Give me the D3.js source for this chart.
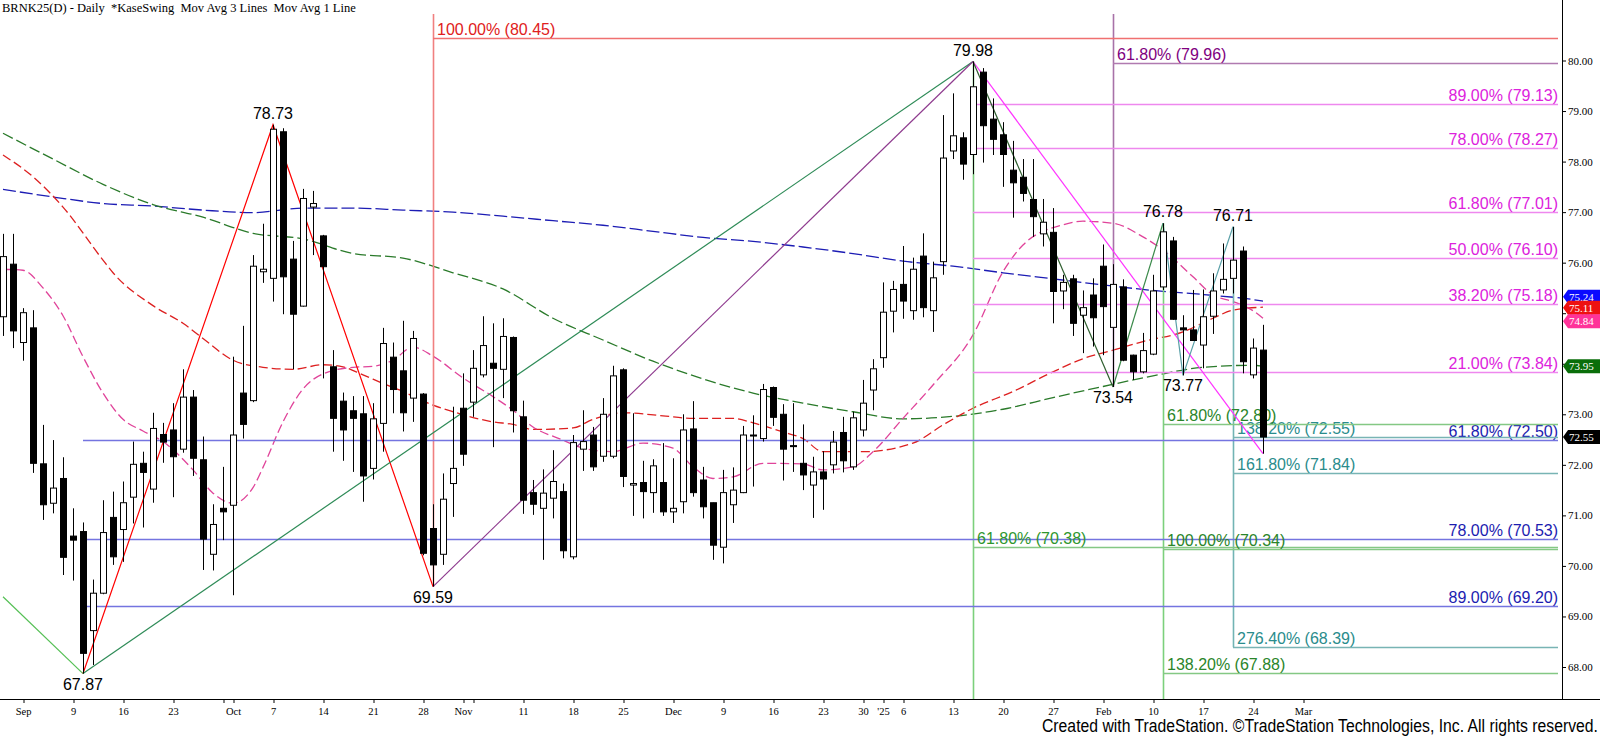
<!DOCTYPE html>
<html lang="en">
<head>
<meta charset="UTF-8">
<script src="https://d3js.org/d3.v7.min.js"></script>
<title>BRNK25(D) - Daily</title>
<style>
  body { margin: 0; background: #fff; }
  svg { display: block; }
  .axis text { font-family: "Liberation Serif", "Times New Roman", serif; fill: #000; }
  .lbl { font-family: "Liberation Sans", Arial, sans-serif; font-size: 16px; }
</style>
</head>
<body>
<svg id="chart" width="1600" height="739"></svg>
<script>
// ---- data ----
// trading calendar (ICE Brent, weekdays without Christmas / New Year)
const firstDay = "2024-08-29";
const lastDay = "2025-04-15";
const holidays = ["2024-12-25", "2025-01-01"];

// daily candles Aug 29 2024 .. Feb 25 2025
const open = [74.93,75.97,74.42,74.71,72.02,71.24,71.73,70.59,70.68,68.72,69.46,70.96,70.72,71.36,72.03,71.52,72.60,72.69,72.31,73.34,
  72.10,70.23,71.14,71.20,73.42,73.27,75.82,75.69,78.59,76.07,75.14,77.10,76.53,73.94,73.26,73.07,73.01,71.93,72.82,74.13,
  73.86,73.32,73.40,70.74,70.23,71.63,73.12,73.24,73.78,74.01,73.89,74.52,72.95,71.45,71.14,71.34,71.47,70.18,72.31,72.59,
  72.17,72.17,73.88,71.60,71.65,71.45,71.65,71.07,71.27,72.71,71.70,71.25,70.37,71.21,71.45,72.59,72.52,73.53,73.00,72.38,
  72.03,71.60,71.86,72.00,72.64,71.96,72.69,73.48,74.12,75.04,75.57,75.05,76.13,75.05,76.02,78.21,78.47,78.14,79.77,78.84,
  78.53,77.83,77.69,77.25,76.57,76.60,75.44,75.68,74.96,75.36,75.93,74.72,75.52,74.17,73.84,74.19,75.52,76.43,74.71,74.67,
  74.37,74.94,75.46,75.69,76.23,73.78,74.27];
const high = [76.57,76.57,75.10,75.06,72.79,72.49,72.15,71.14,70.86,69.73,71.30,71.47,71.67,72.46,72.26,73.03,72.83,73.22,73.89,73.48,
  72.56,71.22,71.96,74.14,74.75,76.15,76.77,78.73,78.66,76.43,77.46,77.42,76.55,74.27,73.43,73.36,73.36,73.22,74.71,74.42,
  74.85,74.65,73.42,71.22,71.83,73.15,73.81,74.27,74.94,74.80,74.90,74.54,73.27,71.70,71.91,72.29,71.63,72.59,73.08,72.75,
  73.32,73.96,73.91,73.02,72.08,72.11,72.43,72.13,73.00,73.26,71.96,71.25,71.90,71.95,72.77,72.98,73.60,73.55,73.20,73.22,
  72.80,72.16,72.27,72.67,72.95,73.05,73.68,74.09,75.61,75.64,76.33,76.10,76.58,76.02,78.92,79.35,78.58,79.98,79.85,79.25,
  78.78,78.41,78.05,78.05,77.26,77.08,75.76,75.76,75.45,75.69,76.36,75.97,75.67,74.18,74.61,75.76,76.78,76.51,74.96,75.46,
  75.47,75.79,76.38,76.71,76.32,74.50,74.77];
const low = [74.55,74.31,74.06,71.84,70.91,71.04,69.82,69.71,67.87,68.04,69.44,70.02,70.08,70.84,70.76,71.25,72.04,71.36,72.24,71.78,
  69.92,69.91,70.51,69.42,72.52,73.24,75.60,75.23,74.98,73.89,75.13,76.15,73.71,72.26,72.08,71.86,71.27,71.71,72.26,73.02,
  72.66,72.85,70.21,69.59,70.02,70.97,71.98,72.95,73.73,72.35,73.32,72.64,71.03,71.01,70.12,70.94,70.15,70.13,71.88,71.88,
  72.06,72.13,71.56,70.99,70.94,71.05,70.99,70.85,71.04,71.37,70.94,70.12,70.05,70.85,71.44,71.57,72.46,72.77,71.69,71.86,
  71.50,70.95,71.11,71.83,71.85,71.90,72.56,73.08,73.92,74.62,74.89,74.87,74.92,74.63,75.76,78.05,77.64,77.75,77.98,78.13,
  77.50,76.89,77.21,76.51,76.32,74.80,75.08,74.55,74.21,74.34,74.17,73.54,74.05,73.68,73.81,74.17,75.46,74.87,73.77,74.45,
  73.91,74.59,75.39,75.39,73.81,73.71,72.22];
const close = [76.12,74.65,75.01,72.03,71.21,71.54,70.17,70.51,68.27,69.46,70.66,70.18,71.25,72.01,71.85,72.72,72.45,72.16,73.34,72.13,
  70.53,70.82,71.07,72.59,72.80,75.93,75.87,78.64,75.72,74.98,77.27,77.17,75.92,72.92,72.69,72.92,71.78,72.91,74.40,73.49,
  73.03,74.50,70.25,70.02,71.32,71.93,72.21,73.91,74.36,73.91,74.54,73.07,71.30,71.22,71.44,71.67,70.30,72.44,72.46,71.96,
  73.00,73.76,71.77,71.63,71.47,71.98,71.07,71.14,72.69,71.45,71.17,70.41,71.45,71.50,72.59,72.57,73.49,72.94,72.31,72.37,
  71.80,71.86,71.72,72.45,72.08,72.93,73.22,73.90,75.02,75.47,75.24,75.87,75.11,75.70,78.07,78.51,77.95,79.48,78.71,78.44,
  78.14,77.58,77.37,76.91,76.80,75.43,75.61,74.80,75.11,74.91,75.13,75.57,74.07,73.84,74.26,75.44,76.61,74.88,74.67,74.46,
  74.93,75.44,75.67,76.05,74.04,74.31,72.55];

// moving averages, sampled at trading-day numbers (0 = Aug 29)
const maGridIdx = [0,5,10,15,20,25,30,35,40,45,50,55,60,65,70,75,80,85,90,95,100,105,110,115,120,125,126];
const maBlue  = [77.45,77.30,77.17,77.12,77.04,76.99,77.08,77.08,77.04,77.00,76.92,76.83,76.74,76.62,76.50,76.42,76.31,76.18,76.03,75.93,75.80,75.68,75.56,75.45,75.37,75.27,75.24];
const maGreen = [78.56,78.05,77.55,77.15,76.90,76.58,76.47,76.18,76.09,75.80,75.48,74.90,74.47,74.05,73.70,73.42,73.22,73.05,72.91,72.96,73.10,73.33,73.55,73.76,73.93,73.97,73.95];
const maRedIdx = [0,3,6,10,11,15,18,20,23,26,29,32,34,36,38,40,43,45,49,51,53,57,59,62,66,69,73,75,78,80,82,86,91,94,97,101,105,108,111,114,118,121,123,126];
const maRed    = [78.13,77.70,77.10,76.05,75.80,75.15,74.80,74.50,74.07,73.93,73.89,73.98,73.94,73.78,73.61,73.45,73.18,73.05,72.85,72.80,72.70,72.73,72.90,73.03,72.97,72.92,72.92,72.83,72.65,72.52,72.26,72.26,72.43,72.79,73.12,73.45,73.84,74.10,74.27,74.44,74.63,74.90,75.06,75.12];
const maPinkIdx = [0,2,4,6,8,10,12,14,16,19,21,23,25,26,28,30,32,35,37,39,41,43,46,49,51,53,56,58,61,64,67,69,71,73,76,80,82,85,87,90,93,97,100,102,106,108,111,114,116,119,121,123,125,126];
const maPink    = [75.87,75.85,75.50,74.95,74.14,73.42,72.90,72.67,72.46,71.90,71.44,71.24,71.55,71.95,72.85,73.50,73.80,73.93,73.95,74.07,74.33,74.15,73.72,73.35,73.08,72.75,72.49,72.33,72.26,72.43,72.33,71.96,71.73,71.76,72.03,72.02,71.90,71.96,72.26,72.92,73.58,74.57,75.82,76.35,76.75,76.82,76.78,76.51,76.25,75.72,75.36,75.23,75.05,74.90];
const maTagValues = [75.24, 75.11, 74.84, 73.95];
const lastClose = 72.55;

// swing points
const swingDates  = ["2024-09-10","2024-10-07","2024-10-29","2025-01-15","2025-02-04","2025-02-11","2025-02-13","2025-02-20"];
const swingPrices = [67.87, 78.73, 69.59, 79.98, 73.54, 76.78, 73.77, 76.71];
const swingKind   = ["L","H","L","H","L","H","L","H"];

// fibonacci levels
const redFibPct = ["100.00%"],  redFibVal = [80.45];
const purpleFibPct = ["61.80%"], purpleFibVal = [79.96];
const magFibPct = ["89.00%","78.00%","61.80%","50.00%","38.20%","21.00%"];
const magFibVal = [79.13, 78.27, 77.01, 76.10, 75.18, 73.84];
const blueFibPct = ["61.80%","78.00%","89.00%"];
const blueFibVal = [72.50, 70.53, 69.20];
const greenFibAPct = ["61.80%"], greenFibAVal = [70.38];
const greenFibBPct = ["61.80%","100.00%","138.20%"];
const greenFibBVal = [72.80, 70.34, 67.88];
const tealFibPct = ["138.20%","161.80%","276.40%"];
const tealFibVal = [72.55, 71.84, 68.39];

// x axis ticks
const tickDates = ["2024-09-02","2024-09-09","2024-09-16","2024-09-23","2024-09-30","2024-10-01","2024-10-07","2024-10-14","2024-10-21","2024-10-28",
  "2024-11-01","2024-11-04","2024-11-11","2024-11-18","2024-11-25","2024-12-02","2024-12-09","2024-12-16","2024-12-23","2024-12-30",
  "2025-01-02","2025-01-06","2025-01-13","2025-01-20","2025-01-27","2025-02-03","2025-02-10","2025-02-17","2025-02-24","2025-03-03"];
const tickLabels = ["Sep","9","16","23","","Oct","7","14","21","28","Nov","","11","18","25","Dec","9","16","23","30","'25","6","13","20","27","Feb","10","17","24","Mar"];

// ---- drawing ----
const fmt = d3.utcFormat("%Y-%m-%d");
const days = d3.utcDay.range(new Date(firstDay), new Date(lastDay))
  .filter(d => d.getUTCDay() > 0 && d.getUTCDay() < 6)
  .map(fmt)
  .filter(d => !holidays.includes(d));

const svg = d3.select("#chart");
const axisX = 1562, axisY = 699, lineEnd = 1558;

const x = d3.scalePoint().domain(days).range([3, 3 + 10 * (days.length - 1)]);
const y = d3.scaleLinear().domain([68, 80]).range([667, 60.5]);
const px = d => Math.round(x(d)) + 0.5;

svg.append("defs").append("clipPath").attr("id", "plot")
  .append("rect").attr("x", 0).attr("y", 0).attr("width", axisX).attr("height", axisY);
const plot = svg.append("g").attr("clip-path", "url(#plot)");

// title
svg.append("text").attr("x", 2).attr("y", 12)
  .style("font-family", "'Liberation Serif', 'Times New Roman', serif").style("font-size", "12.5px")
  .style("white-space", "pre")
  .text("BRNK25(D) - Daily  *KaseSwing  Mov Avg 3 Lines  Mov Avg 1 Line");

// moving averages
function maLine(idx, vals, color, dash) {
  plot.append("path")
    .datum(idx.map((k, i) => [days[k], vals[i]]))
    .attr("fill", "none").attr("stroke", color).attr("stroke-width", 1.3)
    .attr("stroke-dasharray", dash)
    .attr("d", d3.line().x(d => x(d[0])).y(d => y(d[1])).curve(d3.curveMonotoneX));
}
maLine(maGridIdx, maBlue, "#1c1cb4", "13,4");
maLine(maGridIdx, maGreen, "#2a7a2a", "11,4");
maLine(maRedIdx, maRed, "#dd2020", "9,4");
maLine(maPinkIdx, maPink, "#e0449a", "9,4");

// fib horizontal levels
function fib(pcts, vals, start, lineColor, textColor, align) {
  const g = plot.append("g");
  vals.forEach((v, i) => {
    const yy = Math.round(y(v)) + 0.5;
    g.append("line").attr("x1", x(start)).attr("x2", lineEnd).attr("y1", yy).attr("y2", yy)
      .attr("stroke", lineColor).attr("stroke-width", 1.7);
    g.append("text").attr("class", "lbl")
      .attr("x", align === "end" ? lineEnd : x(start) + 4)
      .attr("y", yy - 4)
      .attr("text-anchor", align)
      .attr("fill", textColor)
      .text(`${pcts[i]} (${v.toFixed(2)})`);
  });
}

// vertical marker lines
function vline(date, y1, y2, color) {
  plot.append("line").attr("x1", px(date)).attr("x2", px(date))
    .attr("y1", y1).attr("y2", y2).attr("stroke", color).attr("stroke-width", 1.6);
}
vline("2024-10-29", 14, y(69.59), "#f08080");
vline("2025-02-04", 14, y(73.54), "#a872a8");
vline("2025-01-15", y(79.98), axisY, "#7cd07c");
vline("2025-02-11", y(76.78), axisY, "#7cd07c");
vline("2025-02-20", y(76.71), y(68.39), "#72b4b4");

fib(redFibPct, redFibVal, "2024-10-29", "#f07070", "#e02020", "start");
fib(purpleFibPct, purpleFibVal, "2025-02-04", "#b07ab0", "#800080", "start");
fib(magFibPct, magFibVal, "2025-01-15", "#ee88ee", "#dd22dd", "end");
fib(blueFibPct, blueFibVal, "2024-09-10", "#7474e0", "#1c1cb0", "end");
fib(greenFibAPct, greenFibAVal, "2025-01-15", "#84c884", "#2e962e", "start");
fib(tealFibPct, tealFibVal, "2025-02-20", "#78b4b4", "#2a8c8c", "start");
fib(greenFibBPct, greenFibBVal, "2025-02-11", "#84c884", "#2a852a", "start");

// swing lines
function seg(pts, color) {
  plot.append("path").datum(pts).attr("fill", "none").attr("stroke", color).attr("stroke-width", 1.2)
    .attr("d", d3.line().x(d => x(d[0])).y(d => y(d[1])));
}
const sw = i => [swingDates[i], swingPrices[i]];
seg([["2024-08-29", 69.39], sw(0)], "#55c055");
seg([sw(0), sw(1), sw(2)], "#ff0000");
seg([sw(0), sw(3)], "#2e8b57");
seg([sw(2), sw(3)], "#8e3a8e");
seg([sw(3), ["2025-02-25", 72.22]], "#ff33ff");
seg([sw(3), sw(4)], "#2f5f2f");
seg([sw(4), sw(5)], "#3a8a4a");
seg([sw(5), sw(6), sw(7)], "#5aa0a8");

// candles
const candles = open.map((o, i) => ({ d: days[i], o, h: high[i], l: low[i], c: close[i] }));
const cg = plot.append("g");
cg.selectAll("line").data(candles).join("line")
  .attr("x1", d => px(d.d)).attr("x2", d => px(d.d))
  .attr("y1", d => y(d.h)).attr("y2", d => y(d.l))
  .attr("stroke", "#000").attr("stroke-width", 1);
cg.selectAll("rect").data(candles).join("rect")
  .attr("x", d => px(d.d) - 3).attr("width", 6)
  .attr("y", d => y(Math.max(d.o, d.c)))
  .attr("height", d => Math.max(1, Math.abs(y(d.o) - y(d.c))))
  .attr("fill", d => d.c >= d.o ? "#fff" : "#000")
  .attr("stroke", "#000").attr("stroke-width", 1);

// swing labels
svg.append("g").selectAll("text").data(swingDates).join("text")
  .attr("class", "lbl").attr("text-anchor", "middle")
  .attr("x", d => x(d))
  .attr("y", (d, i) => swingKind[i] === "H" ? y(swingPrices[i]) - 6 : y(swingPrices[i]) + 16)
  .attr("fill", "#000")
  .text((d, i) => swingPrices[i].toFixed(2));

// right price axis
svg.append("g").attr("class", "axis").attr("transform", `translate(${axisX},0)`)
  .call(d3.axisRight(y).tickValues(d3.range(68, 81)).tickFormat(d3.format(".2f")).tickSize(4).tickPadding(2))
  .call(g => g.select(".domain").remove())
  .call(g => g.selectAll("text").style("font-size", "11px"));
svg.append("line").attr("x1", axisX + 0.5).attr("x2", axisX + 0.5).attr("y1", 0).attr("y2", axisY)
  .attr("stroke", "#000");

// bottom date axis
svg.append("g").attr("class", "axis").attr("transform", `translate(0,${axisY})`)
  .call(d3.axisBottom(x).tickValues(tickDates).tickFormat((d, i) => tickLabels[i]).tickSize(4).tickPadding(5))
  .call(g => g.select(".domain").remove())
  .call(g => g.selectAll(".tick line").attr("transform", "translate(0.5,0)"))
  .call(g => g.selectAll("text").style("font-size", "10.5px"));
svg.append("line").attr("x1", 0).attr("x2", 1600).attr("y1", axisY + 0.5).attr("y2", axisY + 0.5)
  .attr("stroke", "#000");

// value tags on the price axis
const tagColors = ["#0a0aff", "#ee1111", "#ff3399", "#0a6e0a"];
const tagY = maTagValues.map(v => y(v));
for (let i = tagY.length - 2; i >= 0; i--) {
  if (tagY[i + 1] - tagY[i] < 11) tagY[i] = tagY[i + 1] - 11;
}
function tag(yy, color, label) {
  const g = svg.append("g");
  g.append("path")
    .attr("d", `M${axisX + 1},${yy} L${axisX + 6},${yy - 7} H1600 V${yy + 7} H${axisX + 6} Z`)
    .attr("fill", color);
  g.append("text").attr("x", axisX + 7).attr("y", yy + 4)
    .style("font-family", "'Liberation Serif', 'Times New Roman', serif").style("font-size", "11px")
    .attr("fill", "#fff").text(label);
}
[0, 1, 2, 3].forEach(i => tag(tagY[i], tagColors[i], maTagValues[i].toFixed(2)));
tag(y(lastClose), "#000", lastClose.toFixed(2));

// footer
svg.append("text").attr("x", 1598).attr("y", 732).attr("text-anchor", "end")
  .style("font-family", "'Liberation Sans Narrow', 'Arial Narrow', 'Liberation Sans', sans-serif")
  .style("font-size", "17.5px")
  .attr("textLength", 556).attr("lengthAdjust", "spacingAndGlyphs")
  .text("Created with TradeStation. ©TradeStation Technologies, Inc. All rights reserved.");
</script>
</body>
</html>
